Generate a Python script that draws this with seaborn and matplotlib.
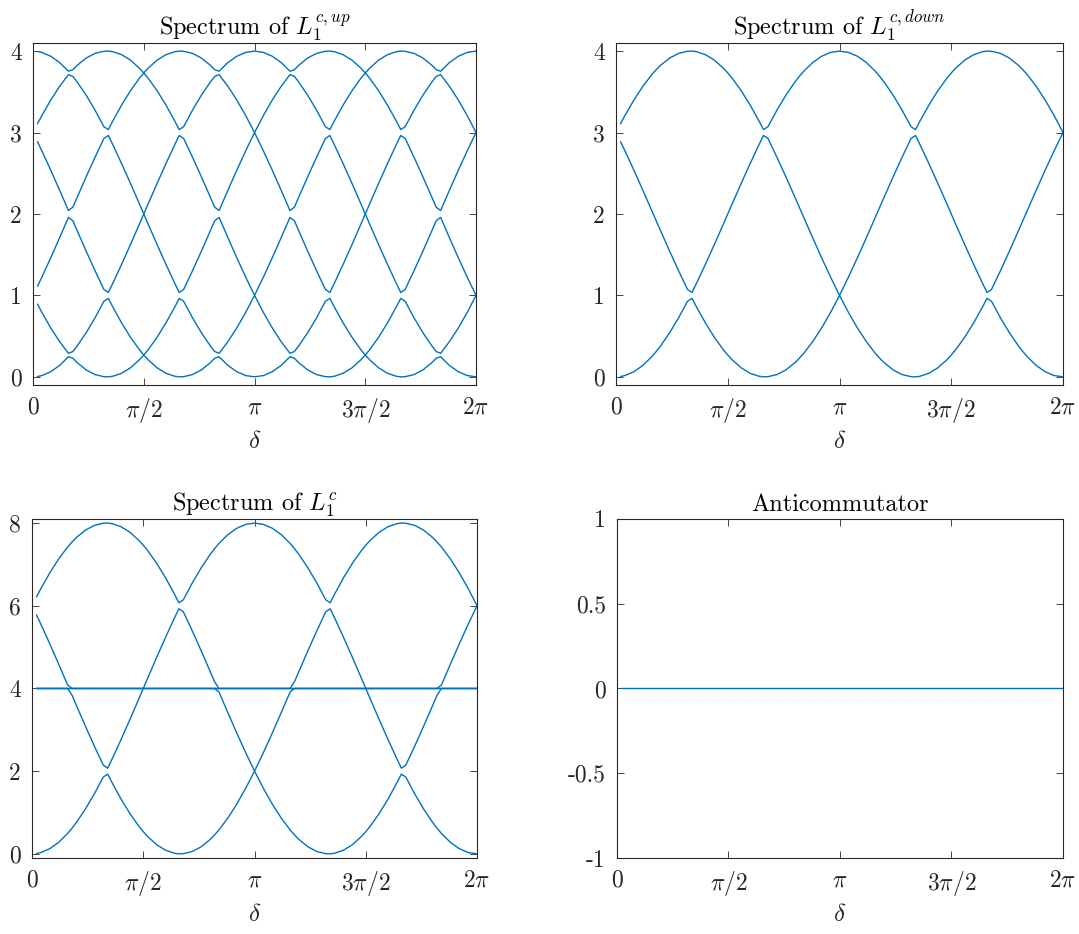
import numpy as np
import pandas as pd
import matplotlib
matplotlib.use("Agg")
import matplotlib.pyplot as plt
import seaborn as sns

# flux parameter delta (degrees), sampled like the original run
delta_deg = [3.6, 7.2, 14.4, 21.6, 28.8, 32.4, 36.0, 43.2, 50.4, 57.6, 61.2, 64.8, 72.0, 79.2, 86.4, 90.0,
             93.6, 100.8, 108.0, 115.2, 118.8, 122.4, 129.6, 136.8, 144.0, 147.6, 151.2, 158.4, 165.6, 172.8, 180.0,
             187.2, 194.4, 201.6, 208.8, 212.4, 216.0, 223.2, 230.4, 237.6, 241.2, 244.8, 252.0, 259.2, 266.4, 270.0,
             273.6, 280.8, 288.0, 295.2, 298.8, 302.4, 309.6, 316.8, 324.0, 327.6, 331.2, 338.4, 345.6, 352.8, 360.0]

# spectrum of L1^{c,up} (sorted eigenvalues)
up_1 = [0.004, 0.016, 0.063, 0.140, 0.247, 0.228, 0.173, 0.085, 0.028, 0.002, 0.000, 0.007, 0.044, 0.111, 0.209, 0.268,
        0.209, 0.111, 0.044, 0.007, 0.000, 0.002, 0.028, 0.085, 0.173, 0.228, 0.247, 0.140, 0.063, 0.016, 0.000,
        0.016, 0.063, 0.140, 0.247, 0.228, 0.173, 0.085, 0.028, 0.002, 0.000, 0.007, 0.044, 0.111, 0.209, 0.268,
        0.209, 0.111, 0.044, 0.007, 0.000, 0.002, 0.028, 0.085, 0.173, 0.228, 0.247, 0.140, 0.063, 0.016, 0.000]
up_2 = [0.893, 0.791, 0.601, 0.433, 0.289, 0.311, 0.382, 0.542, 0.725, 0.928, 0.964, 0.859, 0.662, 0.486, 0.334, 0.268,
        0.334, 0.486, 0.662, 0.859, 0.964, 0.928, 0.725, 0.542, 0.382, 0.311, 0.289, 0.433, 0.601, 0.791, 1.000,
        0.791, 0.601, 0.433, 0.289, 0.311, 0.382, 0.542, 0.725, 0.928, 0.964, 0.859, 0.662, 0.486, 0.334, 0.268,
        0.334, 0.486, 0.662, 0.859, 0.964, 0.928, 0.725, 0.542, 0.382, 0.311, 0.289, 0.433, 0.601, 0.791, 1.000]
up_3 = [1.111, 1.225, 1.462, 1.708, 1.958, 1.916, 1.791, 1.543, 1.303, 1.073, 1.036, 1.148, 1.382, 1.625, 1.874, 2.000,
        1.874, 1.625, 1.382, 1.148, 1.036, 1.073, 1.303, 1.543, 1.791, 1.916, 1.958, 1.708, 1.462, 1.225, 1.000,
        1.225, 1.462, 1.708, 1.958, 1.916, 1.791, 1.543, 1.303, 1.073, 1.036, 1.148, 1.382, 1.625, 1.874, 2.000,
        1.874, 1.625, 1.382, 1.148, 1.036, 1.073, 1.303, 1.543, 1.791, 1.916, 1.958, 1.708, 1.462, 1.225, 1.000]
up_4 = [2.889, 2.775, 2.538, 2.292, 2.042, 2.084, 2.209, 2.457, 2.697, 2.927, 2.964, 2.852, 2.618, 2.375, 2.126, 2.000,
        2.126, 2.375, 2.618, 2.852, 2.964, 2.927, 2.697, 2.457, 2.209, 2.084, 2.042, 2.292, 2.538, 2.775, 3.000,
        2.775, 2.538, 2.292, 2.042, 2.084, 2.209, 2.457, 2.697, 2.927, 2.964, 2.852, 2.618, 2.375, 2.126, 2.000,
        2.126, 2.375, 2.618, 2.852, 2.964, 2.927, 2.697, 2.457, 2.209, 2.084, 2.042, 2.292, 2.538, 2.775, 3.000]
up_5 = [3.107, 3.209, 3.399, 3.567, 3.711, 3.689, 3.618, 3.458, 3.275, 3.072, 3.036, 3.141, 3.338, 3.514, 3.666, 3.732,
        3.666, 3.514, 3.338, 3.141, 3.036, 3.072, 3.275, 3.458, 3.618, 3.689, 3.711, 3.567, 3.399, 3.209, 3.000,
        3.209, 3.399, 3.567, 3.711, 3.689, 3.618, 3.458, 3.275, 3.072, 3.036, 3.141, 3.338, 3.514, 3.666, 3.732,
        3.666, 3.514, 3.338, 3.141, 3.036, 3.072, 3.275, 3.458, 3.618, 3.689, 3.711, 3.567, 3.399, 3.209, 3.000]
up_6 = [3.996, 3.984, 3.937, 3.860, 3.753, 3.772, 3.827, 3.915, 3.972, 3.998, 4.000, 3.993, 3.956, 3.889, 3.791, 3.732,
        3.791, 3.889, 3.956, 3.993, 4.000, 3.998, 3.972, 3.915, 3.827, 3.772, 3.753, 3.860, 3.937, 3.984, 4.000,
        3.984, 3.937, 3.860, 3.753, 3.772, 3.827, 3.915, 3.972, 3.998, 4.000, 3.993, 3.956, 3.889, 3.791, 3.732,
        3.791, 3.889, 3.956, 3.993, 4.000, 3.998, 3.972, 3.915, 3.827, 3.772, 3.753, 3.860, 3.937, 3.984, 4.000]

# spectrum of L1^{c,down}
down_1 = [0.004, 0.016, 0.063, 0.140, 0.247, 0.311, 0.382, 0.542, 0.725, 0.928, 0.964, 0.859, 0.662, 0.486, 0.334, 0.268,
          0.209, 0.111, 0.044, 0.007, 0.000, 0.002, 0.028, 0.085, 0.173, 0.228, 0.289, 0.433, 0.601, 0.791, 1.000,
          0.791, 0.601, 0.433, 0.289, 0.228, 0.173, 0.085, 0.028, 0.002, 0.000, 0.007, 0.044, 0.111, 0.209, 0.268,
          0.334, 0.486, 0.662, 0.859, 0.964, 0.928, 0.725, 0.542, 0.382, 0.311, 0.247, 0.140, 0.063, 0.016, 0.000]
down_2 = [2.889, 2.775, 2.538, 2.292, 2.042, 1.916, 1.791, 1.543, 1.303, 1.073, 1.036, 1.148, 1.382, 1.625, 1.874, 2.000,
          2.126, 2.375, 2.618, 2.852, 2.964, 2.927, 2.697, 2.457, 2.209, 2.084, 1.958, 1.708, 1.462, 1.225, 1.000,
          1.225, 1.462, 1.708, 1.958, 2.084, 2.209, 2.457, 2.697, 2.927, 2.964, 2.852, 2.618, 2.375, 2.126, 2.000,
          1.874, 1.625, 1.382, 1.148, 1.036, 1.073, 1.303, 1.543, 1.791, 1.916, 2.042, 2.292, 2.538, 2.775, 3.000]
down_3 = [3.107, 3.209, 3.399, 3.567, 3.711, 3.772, 3.827, 3.915, 3.972, 3.998, 4.000, 3.993, 3.956, 3.889, 3.791, 3.732,
          3.666, 3.514, 3.338, 3.141, 3.036, 3.072, 3.275, 3.458, 3.618, 3.689, 3.753, 3.860, 3.937, 3.984, 4.000,
          3.984, 3.937, 3.860, 3.753, 3.689, 3.618, 3.458, 3.275, 3.072, 3.036, 3.141, 3.338, 3.514, 3.666, 3.732,
          3.791, 3.889, 3.956, 3.993, 4.000, 3.998, 3.972, 3.915, 3.827, 3.772, 3.711, 3.567, 3.399, 3.209, 3.000]

# spectrum of L1^c
full_1 = [0.008, 0.032, 0.126, 0.280, 0.494, 0.622, 0.764, 1.084, 1.450, 1.856, 1.928, 1.718, 1.324, 0.972, 0.668, 0.536,
          0.418, 0.222, 0.088, 0.014, 0.000, 0.004, 0.056, 0.170, 0.346, 0.456, 0.578, 0.866, 1.202, 1.582, 2.000,
          1.582, 1.202, 0.866, 0.578, 0.456, 0.346, 0.170, 0.056, 0.004, 0.000, 0.014, 0.088, 0.222, 0.418, 0.536,
          0.668, 0.972, 1.324, 1.718, 1.928, 1.856, 1.450, 1.084, 0.764, 0.622, 0.494, 0.280, 0.126, 0.032, 0.000]
full_2 = [4.000, 4.000, 4.000, 4.000, 4.000, 3.832, 3.582, 3.086, 2.606, 2.146, 2.072, 2.296, 2.764, 3.250, 3.748, 4.000,
          4.000, 4.000, 4.000, 4.000, 4.000, 4.000, 4.000, 4.000, 4.000, 4.000, 3.916, 3.416, 2.924, 2.450, 2.000,
          2.450, 2.924, 3.416, 3.916, 4.000, 4.000, 4.000, 4.000, 4.000, 4.000, 4.000, 4.000, 4.000, 4.000, 4.000,
          3.748, 3.250, 2.764, 2.296, 2.072, 2.146, 2.606, 3.086, 3.582, 3.832, 4.000, 4.000, 4.000, 4.000, 4.000]
full_3 = [4.000, 4.000, 4.000, 4.000, 4.000, 4.000, 4.000, 4.000, 4.000, 4.000, 4.000, 4.000, 4.000, 4.000, 4.000, 4.000,
          4.000, 4.000, 4.000, 4.000, 4.000, 4.000, 4.000, 4.000, 4.000, 4.000, 4.000, 4.000, 4.000, 4.000, 4.000,
          4.000, 4.000, 4.000, 4.000, 4.000, 4.000, 4.000, 4.000, 4.000, 4.000, 4.000, 4.000, 4.000, 4.000, 4.000,
          4.000, 4.000, 4.000, 4.000, 4.000, 4.000, 4.000, 4.000, 4.000, 4.000, 4.000, 4.000, 4.000, 4.000, 4.000]
full_4 = [4.000, 4.000, 4.000, 4.000, 4.000, 4.000, 4.000, 4.000, 4.000, 4.000, 4.000, 4.000, 4.000, 4.000, 4.000, 4.000,
          4.000, 4.000, 4.000, 4.000, 4.000, 4.000, 4.000, 4.000, 4.000, 4.000, 4.000, 4.000, 4.000, 4.000, 4.000,
          4.000, 4.000, 4.000, 4.000, 4.000, 4.000, 4.000, 4.000, 4.000, 4.000, 4.000, 4.000, 4.000, 4.000, 4.000,
          4.000, 4.000, 4.000, 4.000, 4.000, 4.000, 4.000, 4.000, 4.000, 4.000, 4.000, 4.000, 4.000, 4.000, 4.000]
full_5 = [5.778, 5.550, 5.076, 4.584, 4.084, 4.000, 4.000, 4.000, 4.000, 4.000, 4.000, 4.000, 4.000, 4.000, 4.000, 4.000,
          4.252, 4.750, 5.236, 5.704, 5.928, 5.854, 5.394, 4.914, 4.418, 4.168, 4.000, 4.000, 4.000, 4.000, 4.000,
          4.000, 4.000, 4.000, 4.000, 4.168, 4.418, 4.914, 5.394, 5.854, 5.928, 5.704, 5.236, 4.750, 4.252, 4.000,
          4.000, 4.000, 4.000, 4.000, 4.000, 4.000, 4.000, 4.000, 4.000, 4.000, 4.084, 4.584, 5.076, 5.550, 6.000]
full_6 = [6.214, 6.418, 6.798, 7.134, 7.422, 7.544, 7.654, 7.830, 7.944, 7.996, 8.000, 7.986, 7.912, 7.778, 7.582, 7.464,
          7.332, 7.028, 6.676, 6.282, 6.072, 6.144, 6.550, 6.916, 7.236, 7.378, 7.506, 7.720, 7.874, 7.968, 8.000,
          7.968, 7.874, 7.720, 7.506, 7.378, 7.236, 6.916, 6.550, 6.144, 6.072, 6.282, 6.676, 7.028, 7.332, 7.464,
          7.582, 7.778, 7.912, 7.986, 8.000, 7.996, 7.944, 7.830, 7.654, 7.544, 7.422, 7.134, 6.798, 6.418, 6.000]

# anticommutator (vanishes everywhere)
anticomm = [0.0, 0.0, 0.0, 0.0, 0.0, 0.0, 0.0, 0.0, 0.0, 0.0, 0.0, 0.0, 0.0, 0.0, 0.0, 0.0,
            0.0, 0.0, 0.0, 0.0, 0.0, 0.0, 0.0, 0.0, 0.0, 0.0, 0.0, 0.0, 0.0, 0.0, 0.0,
            0.0, 0.0, 0.0, 0.0, 0.0, 0.0, 0.0, 0.0, 0.0, 0.0, 0.0, 0.0, 0.0, 0.0, 0.0,
            0.0, 0.0, 0.0, 0.0, 0.0, 0.0, 0.0, 0.0, 0.0, 0.0, 0.0, 0.0, 0.0, 0.0, 0.0]

LINE = '#0072BD'
AXC = '#262626'

sns.set_style("ticks")
plt.rcParams['font.family'] = 'serif'
plt.rcParams['font.serif'] = ['cmr10']
plt.rcParams['mathtext.fontset'] = 'cm'
plt.rcParams['axes.unicode_minus'] = False
plt.rcParams['axes.formatter.use_mathtext'] = True

delta = np.deg2rad(delta_deg)


def long_table(branches):
    # one row per (delta, branch) so seaborn draws each eigenvalue branch as a unit
    parts = []
    for k, vals in enumerate(branches):
        parts.append(pd.DataFrame({'delta': delta, 'value': vals, 'branch': k}))
    return pd.concat(parts, ignore_index=True)


def draw_panel(ax, branches, ylim, yticks, yticklabels, title):
    df = long_table(branches)
    sns.lineplot(data=df, x='delta', y='value', units='branch', estimator=None,
                 color=LINE, linewidth=1.0, ax=ax, legend=False)
    ax.set_xlim(0, 2 * np.pi)
    ax.set_ylim(*ylim)
    ax.set_xticks([0, np.pi / 2, np.pi, 1.5 * np.pi, 2 * np.pi])
    ax.set_xticklabels(['0', r'$\pi/2$', r'$\pi$', r'$3\pi/2$', r'$2\pi$'])
    ax.set_yticks(yticks)
    ax.set_yticklabels(yticklabels)
    ax.tick_params(direction='in', top=True, right=True, length=5, width=0.6,
                   colors=AXC, labelsize=17)
    ax.tick_params(axis='x', pad=8)
    ax.tick_params(axis='y', pad=8)
    for s in ax.spines.values():
        s.set_visible(True)
        s.set_linewidth(0.8)
        s.set_color(AXC)
    ax.set_xlabel(r'$\delta$', fontsize=18, color=AXC, labelpad=4)
    ax.set_ylabel('')
    ax.set_title(title, fontsize=17.5, color='black', pad=6)


fig = plt.figure(figsize=(10.79, 9.34), dpi=100)
ax_up = fig.add_axes([0.0306, 0.5878, 0.4106, 0.3662])
ax_down = fig.add_axes([0.5709, 0.5878, 0.4143, 0.3662])
ax_full = fig.add_axes([0.0297, 0.0814, 0.4124, 0.3630])
ax_anti = fig.add_axes([0.5718, 0.0814, 0.4133, 0.3630])

draw_panel(ax_up, [up_1, up_2, up_3, up_4, up_5, up_6], (-0.1, 4.1),
           [0, 1, 2, 3, 4], ['0', '1', '2', '3', '4'], r'Spectrum of $L_1^{c,up}$')
draw_panel(ax_down, [down_1, down_2, down_3], (-0.1, 4.1),
           [0, 1, 2, 3, 4], ['0', '1', '2', '3', '4'], r'Spectrum of $L_1^{c,down}$')
draw_panel(ax_full, [full_1, full_2, full_3, full_4, full_5, full_6], (-0.1, 8.1),
           [0, 2, 4, 6, 8], ['0', '2', '4', '6', '8'], r'Spectrum of $L_1^{c}$')
draw_panel(ax_anti, [anticomm], (-1, 1),
           [-1, -0.5, 0, 0.5, 1], ['-1', '-0.5', '0', '0.5', '1'], 'Anticommutator')

fig.savefig('out.png', dpi=100, facecolor='white')
